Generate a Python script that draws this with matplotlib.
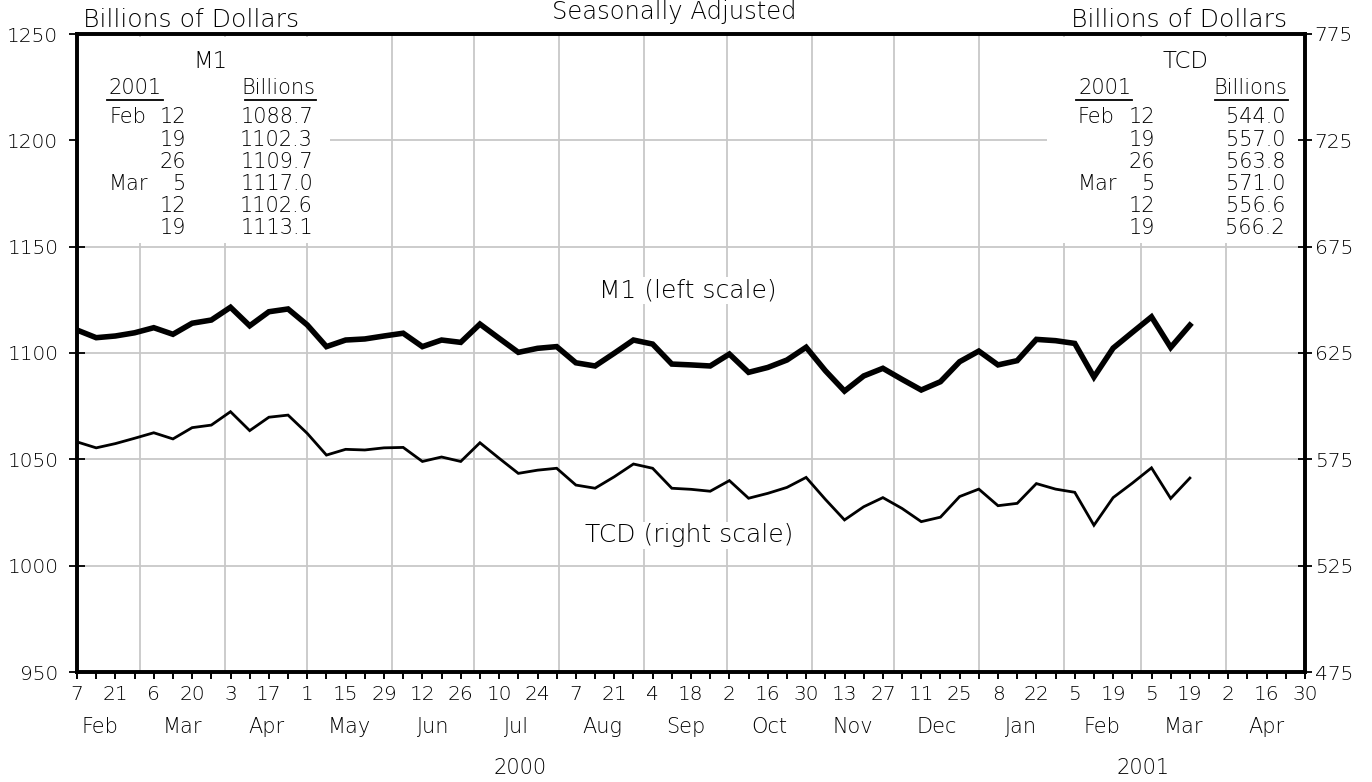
import numpy as np
import pandas as pd
import matplotlib
matplotlib.use('Agg')
import matplotlib.pyplot as plt
import matplotlib.dates as mdates
from matplotlib.ticker import FuncFormatter, FixedLocator
from matplotlib.patches import Rectangle

plt.rcParams['font.family'] = ['DejaVu Sans']
plt.rcParams['font.weight'] = 'light'

# ---------------- data ----------------
start_date = '2000-02-07'   # first weekly observation (Monday)
m1 = [1110.8, 1107.2, 1108.0, 1109.5, 1111.9, 1108.8, 1114.0, 1115.5, 1121.5, 1112.8,
      1119.4, 1120.7, 1113.2, 1103.0, 1106.1, 1106.6, 1108.0, 1109.3, 1103.0, 1106.1,
      1105.0, 1113.6, 1106.9, 1100.3, 1102.2, 1103.0, 1095.4, 1093.9, 1099.9, 1106.1,
      1104.2, 1094.8, 1094.4, 1093.9, 1099.5, 1090.9, 1093.2, 1096.7, 1102.7, 1091.7,
      1082.1, 1089.2, 1092.8, 1087.6, 1082.6, 1086.5, 1095.9, 1100.9, 1094.4, 1096.4,
      1106.4, 1105.8, 1104.5, 1088.7, 1102.3, 1109.7, 1117.0, 1102.6, 1113.1]
tcd = [583.2, 580.4, 582.4, 584.9, 587.5, 584.6, 589.9, 591.1, 597.4, 588.5,
       594.8, 595.8, 587.2, 577.0, 579.7, 579.4, 580.4, 580.6, 574.0, 576.1,
       574.0, 582.8, 575.5, 568.4, 569.9, 570.8, 562.9, 561.4, 566.8, 572.8,
       570.8, 561.4, 560.9, 560.0, 565.0, 556.7, 559.0, 561.8, 566.5, 556.2,
       546.5, 552.7, 557.0, 551.9, 545.7, 547.8, 557.5, 561.0, 553.2, 554.3,
       563.6, 561.0, 559.5, 544.0, 557.0, 563.8, 571.0, 556.6, 566.2]

left_ticks = [950, 1000, 1050, 1100, 1150, 1200, 1250]
right_ticks = [475, 525, 575, 625, 675, 725, 775]

table_months = ['Feb', '', '', 'Mar', '', '']
table_days = ['12', '19', '26', '5', '12', '19']
m1_table = ['1088.7', '1102.3', '1109.7', '1117.0', '1102.6', '1113.1']
tcd_table = ['544.0', '557.0', '563.8', '571.0', '556.6', '566.2']

x_start, x_end = '2000-02-07', '2001-04-30'

dates = pd.date_range(start_date, periods=len(m1), freq='7D')

# ---------------- figure ----------------
W, H = 1372, 782
fig = plt.figure(figsize=(W / 100, H / 100), dpi=100)
L, R, B, T = 77, 1305, 672, 34
ax = fig.add_axes([L / W, 1 - B / H, (R - L) / W, (B - T) / H])
ax2 = ax.twinx()

def fx(px):
    return px / W

def fy(py):
    return 1 - py / H

xs, xe = pd.Timestamp(x_start), pd.Timestamp(x_end)
ax.set_xlim(xs, xe)
ax.set_ylim(950, 1250)
ax2.set_ylim(475, 775)

# grid
ax.set_axisbelow(True)
ax.yaxis.grid(True, color='#c8c8c8', lw=1.3)
month_starts = pd.date_range('2000-03-01', '2001-04-01', freq='MS')
for d in month_starts:
    ax.axvline(d, color='#c8c8c8', lw=1.3, zorder=0.6)

# masks behind the tables
ax.add_patch(Rectangle(((78 - L) / (R - L), (B - 243) / (B - T)), (330 - 78) / (R - L),
                       (243 - 37) / (B - T), transform=ax.transAxes, fc='white', ec='none', zorder=1))
ax.add_patch(Rectangle(((1047 - L) / (R - L), (B - 243) / (B - T)), (1304 - 1047) / (R - L),
                       (243 - 37) / (B - T), transform=ax.transAxes, fc='white', ec='none', zorder=1))

# series
ax.plot(dates, m1, color='black', lw=4.0, solid_joinstyle='miter', zorder=3)
ax2.plot(dates, tcd, color='black', lw=2.0, solid_joinstyle='miter', zorder=3)

# spines
for a in (ax, ax2):
    for s in a.spines.values():
        s.set_linewidth(2.6)

# y ticks
ax.yaxis.set_major_locator(FixedLocator(left_ticks))
ax2.yaxis.set_major_locator(FixedLocator(right_ticks))
ax.tick_params(axis='y', direction='inout', length=11, width=1.3, pad=8, labelsize=14.5)
ax2.tick_params(axis='y', direction='inout', length=10, width=1.3, pad=2, labelsize=14.5)

# x ticks
major = pd.date_range(x_start, x_end, freq='14D')
minor = pd.date_range(x_start, x_end, freq='7D')
ax.xaxis.set_major_locator(FixedLocator(mdates.date2num(major)))
ax.xaxis.set_minor_locator(FixedLocator(mdates.date2num(minor)))
ax.xaxis.set_major_formatter(FuncFormatter(lambda v, p: str(mdates.num2date(v).day)))
ax.tick_params(axis='x', which='both', direction='out', length=5, width=1.4, pad=4, labelsize=14.5)

# month and year labels
months = pd.date_range('2000-02-01', '2001-04-01', freq='MS')
for d in months:
    nxt = d + pd.offsets.MonthBegin(1)
    mid = d + (nxt - d) / 2
    ax.text(mid, (B - 727) / (B - T), d.strftime('%b'), transform=ax.get_xaxis_transform(),
            ha='center', va='center', fontsize=15, clip_on=False)
years = [('2000', '2000-02-01', '2001-01-01'), ('2001', '2001-01-01', '2001-05-01')]
for lab, a0, a1 in years:
    t0, t1 = pd.Timestamp(a0), pd.Timestamp(a1)
    ax.text(t0 + (t1 - t0) / 2, (B - 768) / (B - T), lab, transform=ax.get_xaxis_transform(),
            ha='center', va='center', fontsize=15, clip_on=False)

# headers
fig.text(fx(674), fy(19), 'Seasonally Adjusted', ha='center', va='baseline', fontsize=17.5)
fig.text(fx(83), fy(27), 'Billions of Dollars', ha='left', va='baseline', fontsize=18)
fig.text(fx(1287), fy(27), 'Billions of Dollars', ha='right', va='baseline', fontsize=18)

# series labels
fig.text(fx(688), fy(290), 'M1 (left scale)', ha='center', va='center', fontsize=18,
         bbox=dict(fc='white', ec='none', pad=1))
fig.text(fx(689), fy(535), 'TCD (right scale)', ha='center', va='center', fontsize=18,
         bbox=dict(fc='white', ec='none', pad=1))

# tables
rows_y = [117, 140, 162, 184, 206, 228]

def draw_table(title, title_x, x_left, days_right, bill_left, bill_right, vals):
    fig.text(fx(title_x), fy(61), title, ha='center', va='center', fontsize=16.5)
    fig.text(fx(x_left), fy(88), '2001', ha='left', va='center', fontsize=15)
    fig.text(fx(bill_right), fy(88), 'Billions', ha='right', va='center', fontsize=15)
    fig.add_artist(plt.Line2D([fx(x_left - 2), fx(x_left + 54)], [fy(100), fy(100)],
                              color='black', lw=1.3, transform=fig.transFigure))
    fig.add_artist(plt.Line2D([fx(bill_left), fx(bill_right + 1)], [fy(100), fy(100)],
                              color='black', lw=1.3, transform=fig.transFigure))
    for yy, mo, dd, vv in zip(rows_y, table_months, table_days, vals):
        if mo:
            fig.text(fx(x_left), fy(yy), mo, ha='left', va='center', fontsize=15)
        fig.text(fx(days_right), fy(yy), dd, ha='right', va='center', fontsize=15)
        fig.text(fx(bill_right - 2), fy(yy), vv, ha='right', va='center', fontsize=15)

draw_table('M1', 210, 109, 186, 245, 315, m1_table)
draw_table('TCD', 1185, 1078, 1155, 1215, 1287, tcd_table)

fig.savefig('out.png', dpi=100)
